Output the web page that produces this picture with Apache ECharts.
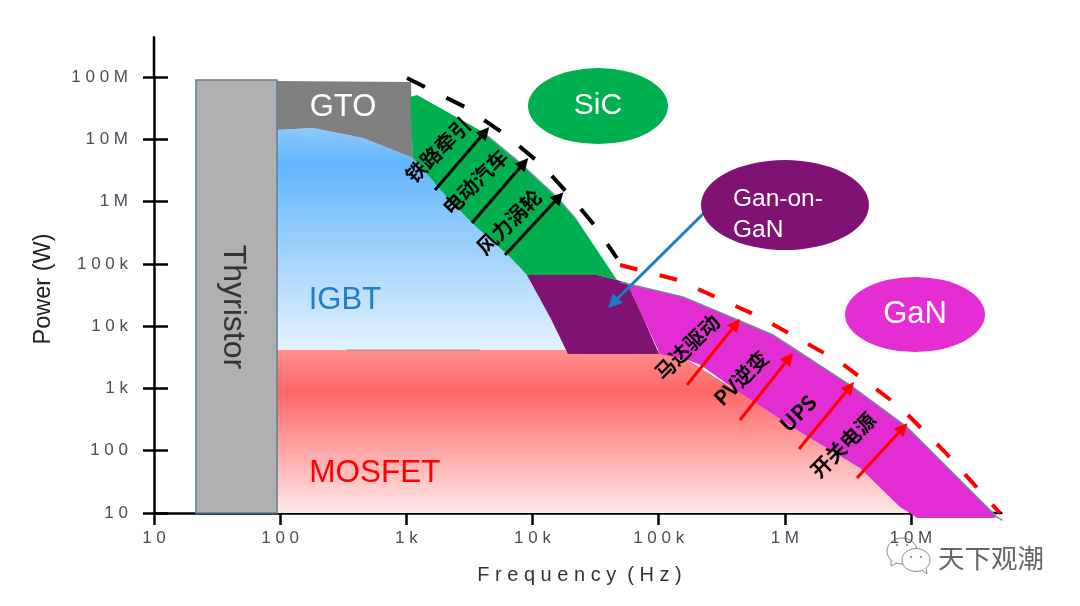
<!DOCTYPE html>
<html><head><meta charset="utf-8">
<style>html,body{margin:0;padding:0;background:#fff}#c{width:1080px;height:606px}</style>
<script src="https://cdn.jsdelivr.net/npm/echarts@6/dist/echarts.min.js"></script>
</head><body><div id="c"></div>
<script>
// ---- data: [frequency Hz, power W] ----
const xTickLabels = ['1 0','1 0 0','1 k','1 0 k','1 0 0 k','1 M','1 0 M'];
const yTickLabels = ['1 0','1 0 0','1 k','1 0 k','1 0 0 k','1 M','1 0 M','1 0 0 M'];

const thyristor = [[21.5,8.94e7],[94.4,8.94e7],[94.4,10],[21.5,10]];
const gto = [[94.4,8.61e7],[1089,8.30e7],[1129,5.00e6],[453,1.048e7],[182,1.516e7],[94.4,1.408e7]];
const igbt = [[94.4,1.408e7],[182,1.516e7],[453,1.048e7],[1129,5.00e6],[2025,1.274e6],[3315,4.53e5],[6630,1.288e5],[9045,6.62e4],[11670,2.63e4],[13760,1.401e4],[19110,3570],[19110,3570],[94.4,4140]];
const mosfet = [[94.4,4140],[19110,4140],[102400,4140],[170800,2860],[441000,844],[1.319e6,200],[3.943e6,52.8],[8.18e6,12.5],[9.81e6,10],[94.4,10]];
const sic = [[1069,4.77e7],[1215,5.14e7],[4050,1.308e7],[7535,4.65e6],[15640,1.183e6],[22520,5.06e5],[46720,5.50e4],[32450,6.62e4],[13760,1.401e4],[11670,2.63e4],[9045,6.62e4],[6630,1.288e5],[3315,4.53e5],[2025,1.274e6],[1129,5.00e6]];
const ganOnGan = [[9045,6.62e4],[32450,6.62e4],[46720,5.50e4],[56080,4.92e4],[75100,1.401e4],[100600,3570],[19110,3570],[13760,1.401e4]];
const gan = [[49360,5.11e4],[155900,2.93e4],[388200,1.351e4],[805400,7200],[3.284e6,1135],[9.29e6,240],[4.80e7,8.62],[4.46e7,8.32],[1.115e7,8.32],[9.81e6,10],[8.18e6,12.5],[3.943e6,52.8],[1.319e6,200],[441000,844],[215000,2377],[170800,2860],[102400,3570],[75100,1.401e4],[56080,4.92e4]];

const sicLimit = [[1012,9.62e7],[2916,3.30e7],[6163,1.171e7],[12110,3.72e6],[20190,1.183e6],[31290,4.05e5],[46720,1.24e5]];
const ganLimit = [[49360,9.58e4],[142300,5.50e4],[635500,1.401e4],[2.736e6,2655],[8.18e6,503],[1.859e7,95.3],[3.043e7,31.4],[5.07e7,10]];
const sicEdge = [[4050,1.308e7],[7535,4.65e6],[15640,1.183e6],[22520,5.06e5]];
const ganEdge = [[49360,5.11e4],[155900,2.93e4],[388200,1.351e4],[805400,7200],[3.284e6,1135],[9.29e6,240],[4.80e7,8.62],[5.3e7,7.6]];
const igbtMosfetSeam = [[338,4140],[3835,4140]];

const yAxisTail = [[10,1e8],[10,4.5e8]];
const xAxisTail = [[1e7,10],[5.3e7,10]];

const sicArrows = [[[1687,1.532e6],[4201,1.308e7]],[[3315,4.53e5],[8562,4.16e6]],[[6053,1.387e5],[16220,1.183e6]]];
const ganArrows = [[[167700,1135],[410000,1.082e4]],[[441000,311],[1.079e6,3080]],[[1.295e6,106.5],[3.284e6,1054]],[[3.73e6,36.5],[8.64e6,231]]];
const pointerArrow = [[[233000,6.8e5],[43450,2.35e4]]];

const bubbleNames = ['SiC','Gan-on-GaN','GaN'];
const bubbleFreq = [33040,1.003e6,1.076e7];
const bubblePower = [3.42e7,8.8e5,1.537e4];

const regionNames = ['GTO','IGBT','MOSFET','Thyristor','SiC','Gan-on-\nGaN','GaN'];
const regionFreq = [315,326,564,42.3,33040,388200,1.076e7];
const regionPower = [3.3e7,2.63e4,43.9,2.03e4,3.42e7,6.2e5,1.537e4];

const useNames = ['铁路牵引','电动汽车','风力涡轮','马达驱动','PV逆变','UPS','开关电源'];
const useFreq = [1782,3500,6510,167700,449000,1.271e6,2.89e6];
const usePower = [6.72e6,2.06e6,4.7e5,4620,1470,403,123.5];

// ---- styles ----
const latin = '"Liberation Sans", Arial, sans-serif';
const cjk = '"Noto Sans CJK SC", sans-serif';
const regionStyles = [
  {fill:'#ffffff',size:31},{fill:'#1f7fca',size:31},{fill:'#ff0000',size:31.5},
  {fill:'#333333',size:32,rot:-Math.PI/2},{fill:'#ffffff',size:30},
  {fill:'#ffffff',size:24.5,align:'left',lh:31},{fill:'#ffffff',size:31}
];
const bubbleStyles = [
  {color:'#00b050',size:[140,76]},{color:'#801274',size:[168,90]},{color:'#e42dd3',size:[140,75]}
];
const grad = echarts.graphic.LinearGradient;

function polygon(points, fill, extra){
  return {type:'custom',coordinateSystem:'cartesian2d',silent:true,z:2,data:[points[0]],
    renderItem:(p,api)=>({type:'polygon',shape:{points:points.map(q=>api.coord(q))},
      style:Object.assign({fill:fill},extra||{})})};
}
function polyline(points, stroke, width, dash, z){
  return {type:'custom',coordinateSystem:'cartesian2d',silent:true,z:z,data:[points[0]],
    renderItem:(p,api)=>({type:'polyline',shape:{points:points.map(q=>api.coord(q))},
      style:{fill:null,stroke:stroke,lineWidth:width,lineDash:dash||null,lineCap:'butt'}})};
}
function arrows(segs, color, width, size, z){
  return {type:'lines',coordinateSystem:'cartesian2d',silent:true,z:z,clip:false,
    symbol:['none','triangle'],symbolSize:size,
    lineStyle:{color:color,width:width,opacity:1,curveness:0},
    data:segs.map(s=>({coords:s}))};
}
function texts(names,fs,ps,styleOf,z){
  return {type:'custom',coordinateSystem:'cartesian2d',silent:true,z:z,clip:false,
    data:names.map((n,i)=>[fs[i],ps[i]]),
    renderItem:(p,api)=>{
      const i=p.dataIndex, c=api.coord([fs[i],ps[i]]), s=styleOf(i);
      return {type:'text',x:c[0],y:c[1],rotation:s.rot||0,
        style:{text:names[i],fill:s.fill,font:s.font,align:s.align||'center',verticalAlign:'middle',lineHeight:s.lh}};
    }};
}
function decade(v){return Math.round(Math.log10(v))-1;}

const axisLine = {show:true,onZero:false,lineStyle:{color:'#000',width:2.5}};
const labelStyle = {fontFamily:latin,fontSize:17,color:'#4c4c58'};

const option = {
  animation:false,
  backgroundColor:'#ffffff',
  grid:{left:154,right:169,top:77,bottom:93,containLabel:false},
  xAxis:{type:'log',logBase:10,min:10,max:1e7,splitLine:{show:false},minorTick:{show:false},
    axisLine:axisLine,axisTick:{show:true,length:12,lineStyle:{color:'#000',width:2.5}},
    axisLabel:Object.assign({margin:17,formatter:v=>xTickLabels[decade(v)]},labelStyle),
    name:'F r e q u e n c y  ( H z )',nameLocation:'middle',nameGap:52,
    nameTextStyle:{fontFamily:latin,fontSize:20,color:'#333333',padding:[0,0,0,94]}},
  yAxis:[
    {type:'log',logBase:10,min:10,max:1e8,splitLine:{show:false},minorTick:{show:false},
     axisLine:axisLine,axisTick:{show:true,length:11,lineStyle:{color:'#000',width:2.5}},
     axisLabel:Object.assign({margin:26,formatter:v=>yTickLabels[decade(v)]},labelStyle),
     name:'Power (W)',nameLocation:'middle',nameGap:98,
     nameTextStyle:{fontFamily:latin,fontSize:23.5,color:'#222222',padding:[0,0,0,12]}},
    {type:'log',logBase:10,min:10,max:1e8,position:'left',splitLine:{show:false},minorTick:{show:false},
     axisLine:{show:false,onZero:false},axisLabel:{show:false},
     axisTick:{show:true,inside:true,length:14,lineStyle:{color:'#000',width:2.5}}}
  ],
  series:[
    polyline(yAxisTail,'#000',2.5,null,1),
    polyline(xAxisTail,'#000',2.5,null,1),
    polygon(igbt,new grad(0,0,0,1,[{offset:0,color:'#8ccaff'},{offset:0.16,color:'#62b5fd'},{offset:1,color:'#e8f4ff'}])),
    polygon(mosfet,new grad(0,0,0,1,[{offset:0,color:'#ff9090'},{offset:0.25,color:'#ff6666'},{offset:1,color:'#ffe8e8'}])),
    polygon(gto,'#808080'),
    polygon(sic,'#00b050'),
    polygon(gan,'#e22dd3'),
    polygon(ganOnGan,'#801274'),
    polygon(thyristor,'#b0b0b0',{stroke:'#5f7d99',lineWidth:1.5}),
    polyline(igbtMosfetSeam,'#b08a90',1.2,null,3),
    polyline(sicEdge,'#8a9aa8',1.2,null,3),
    polyline(ganEdge,'#708a9c',1.5,null,3),
    polyline(sicLimit,'#000000',4,[20,24],3),
    polyline(ganLimit,'#ff0000',4,[18,23],3),
    arrows(pointerArrow,'#1a7dc4',3,14,4),
    {type:'scatter',silent:true,z:5,clip:false,symbol:'circle',
     data:bubbleNames.map((n,i)=>({name:n,value:[bubbleFreq[i],bubblePower[i]],
       symbolSize:bubbleStyles[i].size,itemStyle:{color:bubbleStyles[i].color,opacity:1}}))},
    texts(regionNames,regionFreq,regionPower,i=>{
      const s=regionStyles[i];
      return {fill:s.fill,font:s.size+'px '+latin,rot:s.rot,align:s.align,lh:s.lh};
    },6),
    texts(useNames,useFreq,usePower,i=>({fill:'#000000',font:'bold 20.5px '+cjk,rot:45*Math.PI/180}),6),
    arrows(sicArrows,'#000000',3,13,7),
    arrows(ganArrows,'#ff0000',3,13,7)
  ],
  graphic:[
    {type:'group',z:20,silent:true,children:[
      {type:'ellipse',shape:{cx:902,cy:551,rx:15,ry:13},style:{fill:'#fff',stroke:'#888',lineWidth:1}},
      {type:'polyline',shape:{points:[[891,560],[891,566],[897,563]]},style:{fill:'#fff',stroke:'#888',lineWidth:1}},
      {type:'ellipse',shape:{cx:916,cy:560,rx:14,ry:11.5},style:{fill:'#fff',stroke:'#888',lineWidth:1}},
      {type:'polyline',shape:{points:[[922,570],[927,574],[926,568]]},style:{fill:'#fff',stroke:'#888',lineWidth:1}},
      {type:'circle',shape:{cx:897,cy:545,r:1.2},style:{fill:'#999'}},
      {type:'circle',shape:{cx:907,cy:545,r:1.2},style:{fill:'#999'}},
      {type:'circle',shape:{cx:911,cy:557,r:1.2},style:{fill:'#999'}},
      {type:'circle',shape:{cx:921,cy:557,r:1.2},style:{fill:'#999'}},
      {type:'text',x:938,y:558,style:{text:'天下观潮',fill:'#666666',font:'26.5px '+cjk,verticalAlign:'middle',align:'left'}}
    ]}
  ]
};
const chart = echarts.init(document.getElementById('c'),null,{width:1080,height:606});
chart.setOption(option);
</script></body></html>
